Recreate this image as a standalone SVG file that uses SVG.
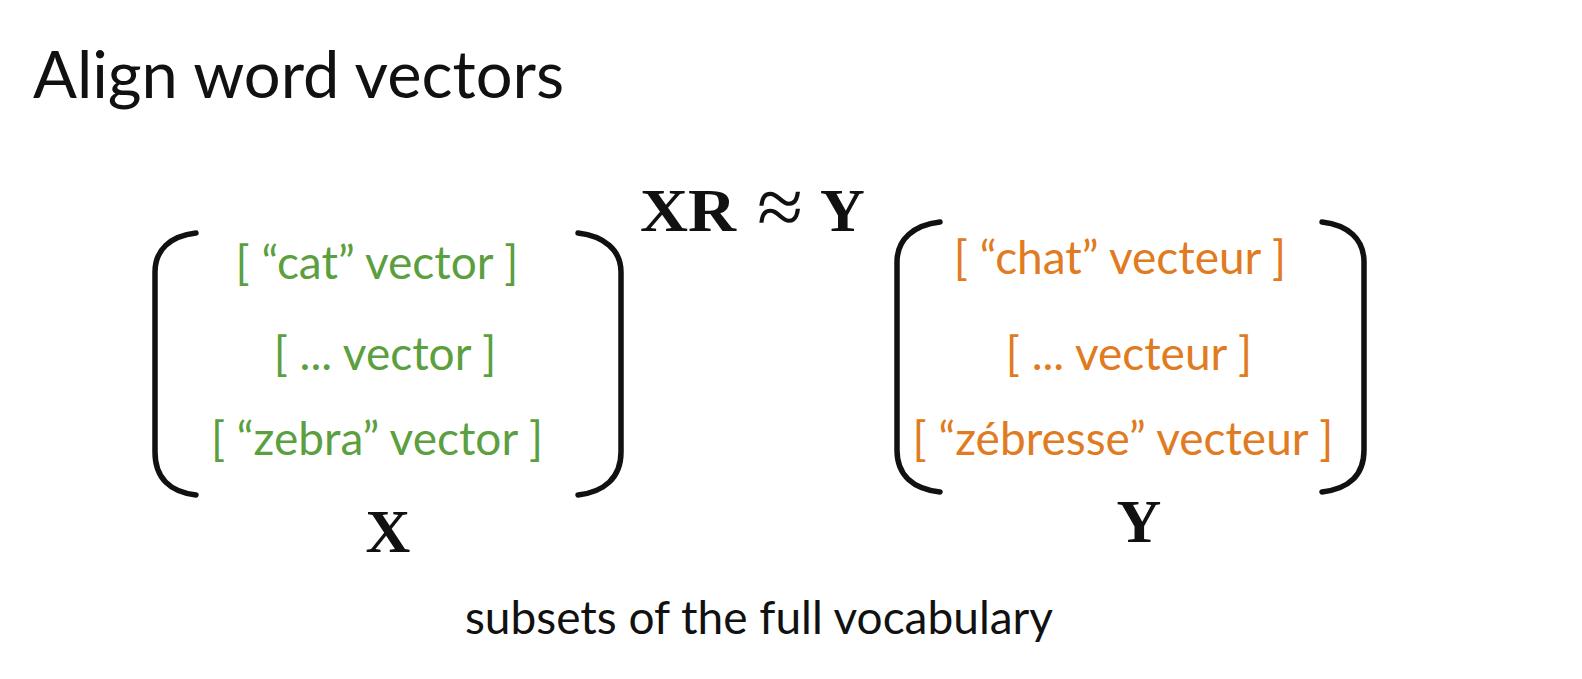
<svg xmlns="http://www.w3.org/2000/svg" width="1582" height="679" viewBox="0 0 1582 679">
<style>
.t{font-family:Lato,"Open Sans",sans-serif;}
.g{fill:#5b9f3f;font-size:46px;text-anchor:middle;}
.o{fill:#e07b22;font-size:46px;text-anchor:middle;}
.m{font-family:"Liberation Serif","DejaVu Serif",serif;font-weight:bold;fill:#111;}
.br{fill:none;stroke:#111;stroke-width:5.5;stroke-linecap:round;}
</style>
<rect width="1582" height="679" fill="#fff"/>
<text id="title" class="t" x="33" y="98" font-size="65" fill="#111">Align word vectors</text>
<g id="eq">
<text class="m" x="640" y="231" font-size="62" textLength="96" lengthAdjust="spacingAndGlyphs">XR</text>
<text x="780" y="235" font-size="84" text-anchor="middle" font-family="'Liberation Serif','DejaVu Serif',serif" fill="#111">≈</text>
<text class="m" x="820" y="231" font-size="62">Y</text>
</g>
<g id="matrixX">
<path class="br" d="M196,233 C170,236 155,250 155,272 L155,452 C155,478 170,492 196,495"/>
<path class="br" d="M578,233 C604,236 621,250 621,272 L621,452 C621,478 604,492 578,495"/>
<text class="t g" x="377" y="279">[ “cat” vector ]</text>
<text class="t g" x="385" y="370">[ ... vector ]</text>
<text class="t g" x="377" y="455">[ “zebra” vector ]</text>
<text class="m" x="388" y="552" font-size="62" text-anchor="middle">X</text>
</g>
<g id="matrixY">
<path class="br" d="M940,222 C914,225 897,239 897,262 L897,450 C897,476 914,489 940,492"/>
<path class="br" d="M1322,222 C1348,225 1364,239 1364,262 L1364,450 C1364,476 1348,489 1322,492"/>
<text class="t o" x="1120" y="274">[ “chat” vecteur ]</text>
<text class="t o" x="1129" y="370">[ ... vecteur ]</text>
<text class="t o" x="1123" y="455">[ “zébresse” vecteur ]</text>
<text class="m" x="1139" y="542" font-size="62" text-anchor="middle">Y</text>
</g>
<text id="caption" class="t" x="759" y="634" font-size="46" fill="#111" text-anchor="middle">subsets of the full vocabulary</text>
</svg>
